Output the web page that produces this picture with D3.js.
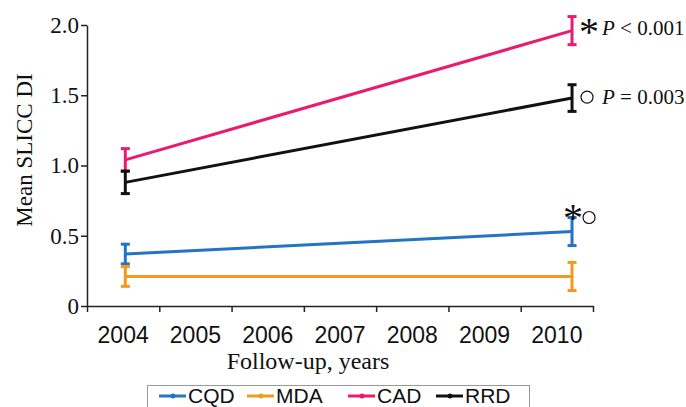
<!DOCTYPE html>
<html lang="en">
<head>
<meta charset="UTF-8">
<title>Mean SLICC DI</title>
<script src="https://d3js.org/d3.v7.min.js"></script>
<style>
    body { margin: 0; background: #fff; }
    .serif { font-family: "Liberation Serif", "Times New Roman", serif; }
    .sans { font-family: "Liberation Sans", Arial, sans-serif; }
</style>
</head>
<body>
<div id="chart"></div>
<script>
    // categories / tick labels
    const yearLabels = [2004, 2005, 2006, 2007, 2008, 2009, 2010];
    const yTicks = [0, 0.5, 1.0, 1.5, 2.0];
    // time of the two visits (x values of the points)
    const visits = [2004.03, 2010.21];

    // series values (mean) and error (half bar)
    const cqd = [0.37, 0.53], cqdErr = [0.07, 0.10];
    const mda = [0.21, 0.21], mdaErr = [0.07, 0.10];
    const cad = [1.04, 1.96], cadErr = [0.08, 0.10];
    const rrd = [0.88, 1.48], rrdErr = [0.08, 0.095];

    const seriesNames = ["CQD", "MDA", "CAD", "RRD"];
    const colors = { CQD: "#2474c4", MDA: "#f39a1e", CAD: "#ea1a70", RRD: "#111111" };

    const series = [
        { name: "CQD", vals: cqd, err: cqdErr },
        { name: "MDA", vals: mda, err: mdaErr },
        { name: "CAD", vals: cad, err: cadErr },
        { name: "RRD", vals: rrd, err: rrdErr }
    ];

    const W = 686, H = 407;
    const plotLeft = 87, plotRight = 593, plotTop = 25, plotBottom = 306;

    const svg = d3.select("#chart").append("svg")
        .attr("width", W).attr("height", H);

    const x = d3.scaleLinear().domain([2003.5, 2010.5]).range([plotLeft, plotRight]);
    const y = d3.scaleLinear().domain([0, 2]).range([plotBottom, plotTop]);

    // axes
    const yAxis = svg.append("g")
        .attr("transform", "translate(" + plotLeft + ",0)")
        .call(d3.axisLeft(y).tickValues(yTicks).tickSize(6).tickSizeOuter(0)
            .tickFormat(function (d) { return d === 0 ? "0" : d3.format(".1f")(d); }));
    yAxis.select(".domain").attr("stroke", "#222").attr("stroke-width", 1.5);
    yAxis.selectAll(".tick line").attr("stroke", "#222").attr("stroke-width", 1.5);
    yAxis.selectAll("text").attr("class", "serif").style("font-size", "23px")
        .attr("fill", "#111").attr("x", -8);

    const xAxis = svg.append("g")
        .attr("transform", "translate(0," + plotBottom + ")")
        .call(d3.axisBottom(x).tickValues(yearLabels.map(d => d - 0.5).concat([2010.5]))
            .tickSize(6).tickSizeOuter(0).tickFormat(""));
    xAxis.select(".domain").attr("stroke", "#222").attr("stroke-width", 1.5);
    xAxis.selectAll(".tick line").attr("stroke", "#222").attr("stroke-width", 1.5);

    svg.append("g").selectAll("text")
        .data(yearLabels)
        .enter().append("text")
        .attr("class", "sans")
        .attr("x", d => x(d))
        .attr("y", 343)
        .attr("text-anchor", "middle")
        .style("font-size", "23px")
        .attr("fill", "#111")
        .text(d => d);

    // axis titles
    svg.append("text").attr("class", "serif")
        .attr("x", 308).attr("y", 369)
        .attr("text-anchor", "middle").style("font-size", "24px").attr("fill", "#111")
        .text("Follow-up, years");

    svg.append("text").attr("class", "serif")
        .attr("transform", "translate(32," + 150 + ") rotate(-90)")
        .attr("text-anchor", "middle").style("font-size", "23px").attr("fill", "#111")
        .text("Mean SLICC DI");

    // lines
    const line = d3.line().x((d, i) => x(visits[i])).y(d => y(d));
    series.forEach(function (s) {
        svg.append("path")
            .datum(s.vals)
            .attr("d", line)
            .attr("fill", "none")
            .attr("stroke", colors[s.name])
            .attr("stroke-width", 3);
    });

    // error bars
    series.forEach(function (s) {
        const g = svg.append("g").attr("stroke", colors[s.name]).attr("stroke-width", 3);
        s.vals.forEach(function (v, i) {
            const cx = x(visits[i]);
            g.append("line").attr("x1", cx).attr("x2", cx)
                .attr("y1", y(v + s.err[i])).attr("y2", y(v - s.err[i]));
            [v + s.err[i], v - s.err[i]].forEach(function (e) {
                g.append("line").attr("x1", cx - 4.5).attr("x2", cx + 4.5)
                    .attr("y1", y(e)).attr("y2", y(e));
            });
        });
    });

    // significance annotations
    function star(cx, cy) {
        svg.append("text").attr("class", "serif")
            .attr("x", cx).attr("y", cy + 15)
            .attr("text-anchor", "middle").style("font-size", "40px").attr("fill", "#111")
            .text("*");
    }
    function ring(cx, cy) {
        svg.append("circle").attr("cx", cx).attr("cy", cy).attr("r", 6)
            .attr("fill", "none").attr("stroke", "#111").attr("stroke-width", 1.2);
    }
    function pText(px, py, rel, val) {
        const t = svg.append("text").attr("class", "serif")
            .attr("x", px).attr("y", py).style("font-size", "21px").attr("fill", "#111");
        t.append("tspan").style("font-style", "italic").text("P");
        t.append("tspan").text(" " + rel + " " + val);
    }

    const x10 = x(visits[1]);
    star(x10 + 17, y(cad[1]) - 1);
    pText(x10 + 30, 35, "<", "0.001");
    ring(x10 + 15, y(rrd[1]) - 1);
    pText(x10 + 30, 104, "=", "0.003");
    star(x10 + 1, y(cqd[1] + cqdErr[1]) - 1);
    ring(x10 + 17, y(cqd[1] + cqdErr[1]));

    // legend
    const legend = svg.append("g");
    legend.append("rect").attr("x", 147.5).attr("y", 385.5)
        .attr("width", 382).attr("height", 40)
        .attr("fill", "#fff").attr("stroke", "#999").attr("stroke-width", 1);
    const legendX = [159, 247, 348, 436];
    seriesNames.forEach(function (n, i) {
        const lx = legendX[i];
        legend.append("line").attr("x1", lx).attr("x2", lx + 27)
            .attr("y1", 396).attr("y2", 396)
            .attr("stroke", colors[n]).attr("stroke-width", 3);
        legend.append("circle").attr("cx", lx + 14).attr("cy", 396).attr("r", 2.5)
            .attr("fill", colors[n]);
        legend.append("text").attr("class", "sans")
            .attr("x", lx + 29).attr("y", 402.5)
            .style("font-size", "21px").attr("fill", "#111")
            .text(n);
    });
</script>
</body>
</html>
